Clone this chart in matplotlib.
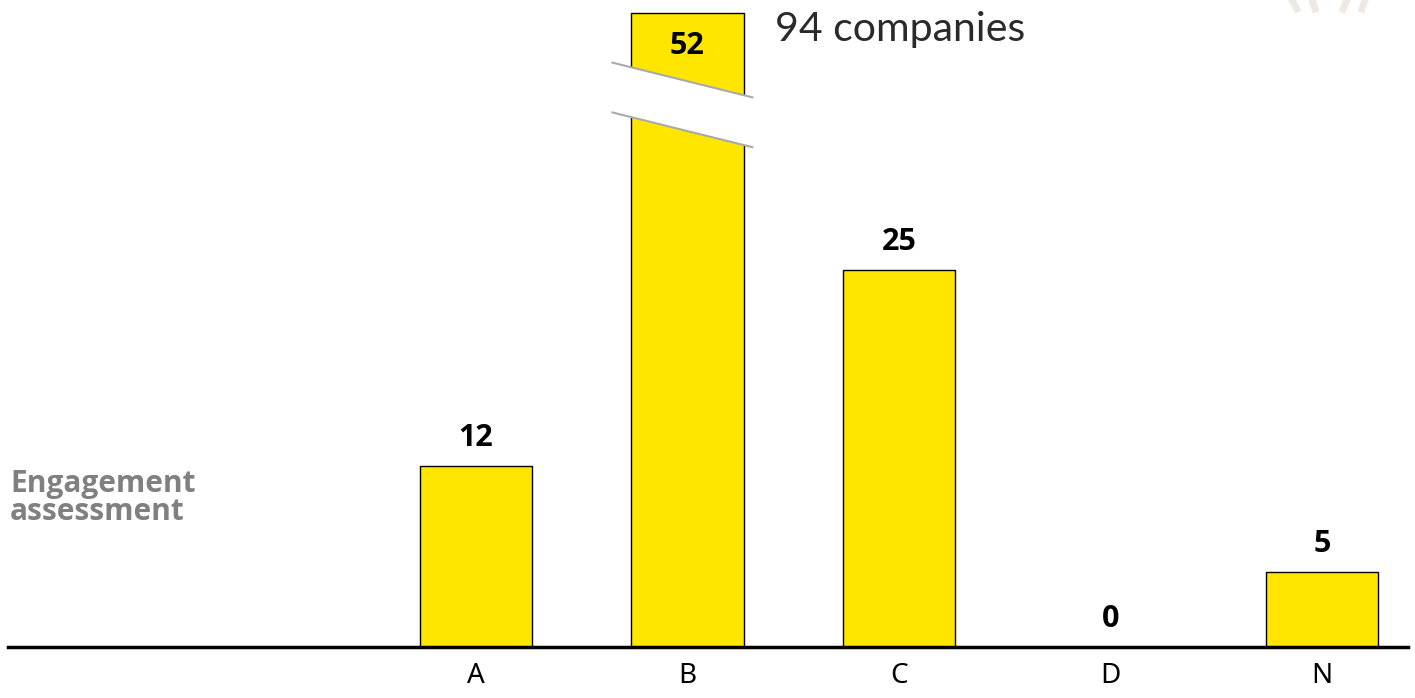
import numpy as np
import matplotlib.pyplot as plt
from matplotlib.patches import Polygon

# data
categories = ['A', 'B', 'C', 'D', 'N']
counts = [12, 52, 25, 0, 5]
total_label = '94 companies'
axis_title = 'Engagement\nassessment'
cap = 42  # tallest bar is cut (axis break) at this height

yellow = '#FFE600'
W, H = 1415, 698
fig = plt.figure(figsize=(W / 100, H / 100), dpi=100)
ax = fig.add_axes([8 / W, (H - 647) / H, 1400 / W, 647 / H])

x = np.arange(len(categories))
shown = [min(v, cap) for v in counts]
ax.bar(x, shown, width=0.53, color=yellow, edgecolor='black', linewidth=1, zorder=2)

ax.set_xlim(-2.213, 4.407)
ax.set_ylim(0, 647 / 15.1)

bold_font = dict(fontsize=22, fontweight='bold', family=['Open Sans', 'DejaVu Sans'])

# value labels
for xi, v, s in zip(x, counts, shown):
    if v > cap:
        ax.text(xi, s - 1.2, str(v), ha='center', va='top', zorder=4, **bold_font)
    else:
        ax.text(xi, s + 0.85, str(v), ha='center', va='bottom', zorder=4, **bold_font)

# axis break on the cut bar
ib = int(np.argmax(counts))
x0, x1 = ib - 0.355, ib + 0.307
upper = (38.7, 36.4)
lower = (35.4, 33.1)
ax.add_patch(Polygon([[x0, upper[0]], [x1, upper[1]], [x1, lower[1]], [x0, lower[0]]],
                     closed=True, facecolor='white', edgecolor='none', zorder=3))
ax.plot([x0, x1], upper, color='#AAAAAA', lw=1.5, zorder=3)
ax.plot([x0, x1], lower, color='#AAAAAA', lw=1.5, zorder=3)

ax.set_xticks(x)
ax.set_xticklabels(categories, fontsize=20, family='Noto Sans')
ax.tick_params(axis='x', length=0, pad=11)
ax.set_yticks([])
for side in ['top', 'right', 'left']:
    ax.spines[side].set_visible(False)
ax.spines['bottom'].set_linewidth(2.5)
ax.spines['bottom'].set_zorder(5)

fig.text(775 / W, 1 - 30 / H, total_label, fontsize=29.5, color='#2a2a2a',
         family=['Lato', 'DejaVu Sans'], va='center', ha='left')
fig.text(10 / W, 1 - 498 / H, axis_title, fontsize=21.5, color='#808080',
         family=['Open Sans', 'DejaVu Sans'], fontweight='bold', va='center', ha='left',
         linespacing=0.88)

# faint decoration in the corner
for xa, xb in [(1292, 1297), (1312, 1315), (1347, 1343), (1365, 1362)]:
    fig.add_artist(plt.Line2D([xa / W, xb / W], [1, 1 - 9 / H], color='#EEE9E2', lw=5))

fig.savefig('out.png', dpi=100)
